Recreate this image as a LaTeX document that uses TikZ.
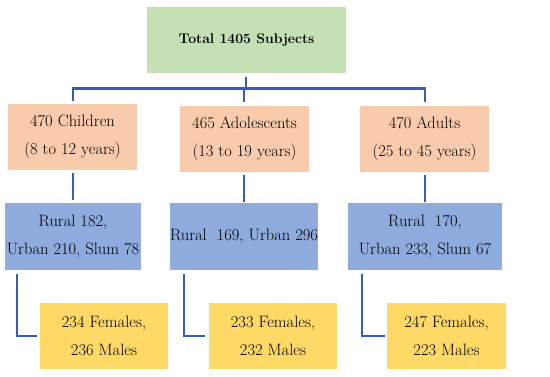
\documentclass[tikz,border=0pt]{standalone}
\definecolor{cgreen}{HTML}{C5E0B4}
\definecolor{cpeach}{HTML}{F8CBAD}
\definecolor{cblue}{HTML}{8FAADC}
\definecolor{cyellow}{HTML}{FFD966}
\definecolor{cline}{HTML}{3A5DAE}
\begin{document}
\begin{tikzpicture}[x=1pt,y=-1pt,
  box/.style={minimum height=66pt, inner sep=0pt, align=center, font=\fontsize{16.5}{28}\selectfont},
  conn/.style={draw=cline, line width=2.6pt}]
\useasboundingbox (0,0) rectangle (550,377);
% nodes
\node[box, fill=cgreen, minimum width=199pt, font=\fontsize{14}{28}\selectfont\bfseries] (g) at (246.5,40) {Total 1405 Subjects};
\node[box, fill=cpeach, minimum width=129pt] (p1) at (72.5,137) {470 Children\\(8 to 12 years)};
\node[box, fill=cpeach, minimum width=129pt] (p2) at (244.5,139) {465 Adolescents\\(13 to 19 years)};
\node[box, fill=cpeach, minimum width=129pt] (p3) at (424.5,139) {470 Adults\\(25 to 45 years)};
\node[box, fill=cblue, minimum width=136pt, minimum height=67pt] (b1) at (73,236.5) {Rural 182,\\Urban 210, Slum 78};
\node[box, fill=cblue, minimum width=146pt, minimum height=67pt] (b2) at (244,236.5) {Rural \ 169, Urban 296};
\node[box, fill=cblue, minimum width=154pt, minimum height=67pt] (b3) at (425,236.5) {Rural \ 170,\\Urban 233, Slum 67};
\node[box, fill=cyellow, minimum width=128pt] (y1) at (104,336) {234 Females,\\236 Males};
\node[box, fill=cyellow, minimum width=128pt] (y2) at (273,336) {233 Females,\\232 Males};
\node[box, fill=cyellow, minimum width=119pt] (y3) at (446.5,336) {247 Females,\\223 Males};
% coordinates
\coordinate (gs) at (246,77);
\coordinate (hb) at (246,88.5);
\coordinate (d1) at (73,88.5);
\coordinate (d3) at (425,88.5);
\coordinate (e1) at (73,101);
\coordinate (e2) at (244,102);
\coordinate (e3) at (425,102);
\coordinate (q1) at (73,173);
\coordinate (q2) at (244,175);
\coordinate (q3) at (425,175);
\coordinate (r1) at (73,200);
\coordinate (r2) at (244,202);
\coordinate (r3) at (425,202);
\coordinate (s1) at (17,274);
\coordinate (s2) at (184,274);
\coordinate (s3) at (362,274);
\coordinate (t1) at (37,336);
\coordinate (t2) at (205,336);
\coordinate (t3) at (385,336);
% connectors
\draw[conn] (gs) -- (hb);
\draw[conn] (e1) -- (d1) -- (d3) -- (e3);
\draw[conn] (e2) -- (e2 |- hb);
\draw[conn] (q1) -- (r1);
\draw[conn] (q2) -- (r2);
\draw[conn] (q3) -- (r3);
\draw[conn] (s1) -- (s1 |- t1) -- (t1);
\draw[conn] (s2) -- (s2 |- t2) -- (t2);
\draw[conn] (s3) -- (s3 |- t3) -- (t3);
\end{tikzpicture}
\end{document}
